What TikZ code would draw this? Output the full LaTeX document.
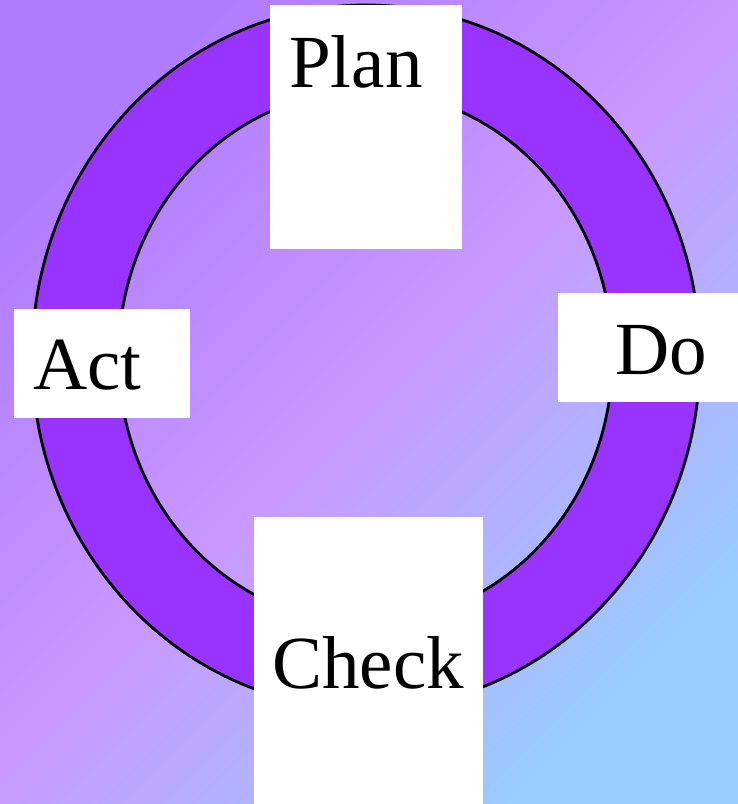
\documentclass[tikz,border=0pt]{standalone}
\usepackage{fontspec}
\setmainfont{Liberation Serif}
\definecolor{bgA}{HTML}{B07CFF}
\definecolor{bgB}{HTML}{C999FF}
\definecolor{bgC}{HTML}{99CCFF}
\definecolor{ringfill}{HTML}{9933FF}
\tikzset{
  ringline/.style={draw=black, line width=2.8pt},
  whitebox/.style={fill=white, draw=none, inner sep=0pt, anchor=north west},
  lbl/.style={inner sep=0pt, anchor=base west, font=\fontsize{75}{90}\selectfont, text=black}
}
\begin{document}
\begin{tikzpicture}[x=1pt,y=-1pt]
\useasboundingbox (0,0) rectangle (738,804);
\shade[top color=bgA, bottom color=bgC, middle color=bgB, shading angle=45] (0,0) rectangle (738,804);
% ring
\fill[ringfill, even odd rule] (366,357) ellipse [x radius=334, y radius=352] (365.5,357) ellipse [x radius=247, y radius=266];
\draw[ringline] (366,357) ellipse [x radius=334, y radius=352];
\draw[ringline] (365.5,357) ellipse [x radius=247, y radius=266];
% boxes
\node[whitebox, minimum width=192pt, minimum height=244pt] (planbox) at (270,5) {};
\node[whitebox, minimum width=176pt, minimum height=109pt] (actbox) at (14,309) {};
\node[whitebox, minimum width=181pt, minimum height=109pt] (dobox) at (558,293) {};
\node[whitebox, minimum width=229pt, minimum height=288pt] (checkbox) at (254,517) {};
% labels
\node[lbl] (plan) at (289,87) {Plan};
\node[lbl] (act) at (33,389) {Act};
\node[lbl] (do) at (615,374) {Do};
\node[lbl] (check) at (272,688) {Check};
\end{tikzpicture}
\end{document}
